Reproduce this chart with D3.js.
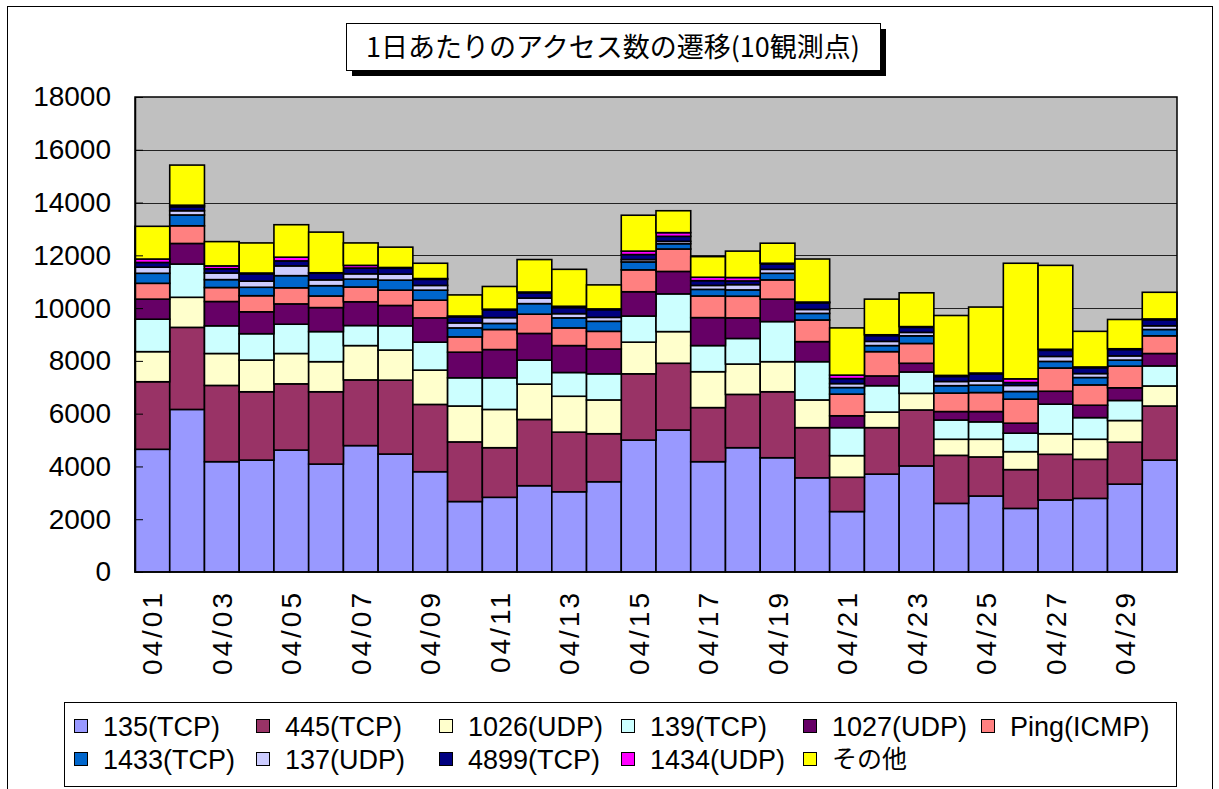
<!DOCTYPE html>
<html>
<head>
<meta charset="utf-8">
<script src="https://cdn.jsdelivr.net/npm/d3@7"></script>
<style>
  body { margin: 0; background: #fff; }
  text { font-family: "Liberation Sans", Arial, sans-serif; }
</style>
</head>
<body>
<svg id="chart" width="1219" height="789"></svg>
<script>
// DATA
var days = ['04/01','04/02','04/03','04/04','04/05','04/06','04/07','04/08','04/09','04/10',
            '04/11','04/12','04/13','04/14','04/15','04/16','04/17','04/18','04/19','04/20',
            '04/21','04/22','04/23','04/24','04/25','04/26','04/27','04/28','04/29','04/30'];
var seriesNames = ['135(TCP)','445(TCP)','1026(UDP)','139(TCP)','1027(UDP)','Ping(ICMP)',
                   '1433(TCP)','137(UDP)','4899(TCP)','1434(UDP)','その他'];
var seriesColors = ['#9999FF','#993366','#FFFFCC','#CCFFFF','#660066','#FF8080',
                    '#0066CC','#CCCCFF','#000080','#FF00FF','#FFFF00'];
var yTicks = [0, 2000, 4000, 6000, 8000, 10000, 12000, 14000, 16000, 18000];

var p135  = [4650,6160,4180,4240,4620,4090,4790,4470,3800,2670,2830,3270,3040,3420,5000,5380,4180,4710,4330,3570,2290,3710,4020,2600,2880,2410,2730,2790,3330,4240];
var p445  = [2560,3110,2890,2590,2510,2740,2490,2800,2550,2260,1880,2510,2260,1820,2510,2530,2050,2020,2500,1900,1300,1760,2120,1820,1480,1470,1730,1480,1590,2050];
var p1026 = [1140,1140,1210,1200,1150,1140,1300,1140,1300,1360,1450,1340,1360,1280,1200,1200,1360,1150,1140,1050,820,590,630,610,670,680,780,760,820,760];
var p139  = [1230,1260,1050,1000,1110,1140,760,920,1060,1070,1200,910,900,990,990,1430,990,970,1520,1450,1060,1000,810,730,660,700,1120,820,760,760];
var p1027 = [760,780,920,830,770,910,900,770,920,970,1070,1010,1020,940,920,850,1060,780,850,760,450,370,330,320,390,380,490,470,480,470];
var ping  = [600,670,530,610,610,440,560,580,670,580,760,730,670,670,830,850,820,820,730,820,820,920,750,700,720,910,880,770,820,670];
var p1433 = [380,410,300,320,460,390,300,380,380,340,230,400,380,380,300,200,250,240,250,250,250,230,290,280,280,290,250,280,230,240];
var p137  = [230,160,250,230,370,220,200,230,180,190,220,210,160,150,90,90,150,200,150,150,150,160,130,160,160,230,190,150,160,140];
var p4899 = [180,150,160,280,190,250,220,220,230,230,290,200,230,290,190,190,180,140,200,250,190,220,190,190,270,110,230,220,240,230];
var p1434 = [130,60,110,30,140,20,100,30,30,30,30,30,50,30,130,140,130,130,30,30,130,30,30,40,30,140,40,30,30,30];
var other = [1240,1520,920,1140,1230,1540,850,770,580,800,860,1230,1400,910,1360,830,780,1000,760,1630,1790,1350,1280,2270,2500,4380,3180,1350,1110,1010];

var seriesValues = [p135, p445, p1026, p139, p1027, ping, p1433, p137, p4899, p1434, other];

// build rows for d3.stack
var rows = days.map(function(d, i) {
    var r = { day: d };
    seriesNames.forEach(function(n, k) { r[n] = seriesValues[k][i]; });
    return r;
});

var svg = d3.select('#chart');

// outer frame
svg.append('rect')
   .attr('x', 7.5).attr('y', 6.5)
   .attr('width', 1205).attr('height', 800)
   .style('fill', '#fff').style('stroke', '#000').style('stroke-width', 1);

// PLOT AREA
var plotLeft = 135, plotRight = 1177, plotTop = 97, plotBottom = 572;

var x = d3.scaleBand().domain(days).range([plotLeft, plotRight]).padding(0);
var y = d3.scaleLinear().domain([0, 18000]).range([plotBottom, plotTop]);

svg.append('rect')
   .attr('x', plotLeft).attr('y', plotTop)
   .attr('width', plotRight - plotLeft).attr('height', plotBottom - plotTop)
   .style('fill', '#C0C0C0');

// gridlines
svg.append('g').selectAll('line')
   .data(yTicks.filter(function(t) { return t > 0 && t < 18000; }))
   .enter().append('line')
   .attr('x1', plotLeft).attr('x2', plotRight)
   .attr('y1', function(d) { return Math.round(y(d)) + 0.5; })
   .attr('y2', function(d) { return Math.round(y(d)) + 0.5; })
   .style('stroke', '#222').style('stroke-width', 1);

// stacked bars
var stack = d3.stack().keys(seriesNames);
var layers = stack(rows);

svg.append('g').selectAll('g')
   .data(layers)
   .enter().append('g')
   .style('fill', function(d, i) { return seriesColors[i]; })
   .selectAll('rect')
   .data(function(d) { return d; })
   .enter().append('rect')
   .attr('x', function(d) { return x(d.data.day); })
   .attr('width', x.bandwidth())
   .attr('y', function(d) { return y(d[1]); })
   .attr('height', function(d) { return y(d[0]) - y(d[1]); })
   .style('stroke', '#000').style('stroke-width', 1.6);

// plot border
svg.append('rect')
   .attr('x', plotLeft).attr('y', plotTop)
   .attr('width', plotRight - plotLeft).attr('height', plotBottom - plotTop)
   .style('fill', 'none').style('stroke', '#000').style('stroke-width', 1.5);

// y axis
var yAxis = d3.axisLeft(y).tickValues(yTicks).tickFormat(d3.format('d'))
              .tickSizeInner(-8).tickSizeOuter(0).tickPadding(24);
var gy = svg.append('g').attr('transform', 'translate(' + plotLeft + ',0)').call(yAxis);
gy.select('.domain').style('stroke', '#000').style('stroke-width', 1.5);
gy.selectAll('.tick line').style('stroke', '#000');
gy.selectAll('.tick text')
  .style('font-family', '"Liberation Sans", Arial, sans-serif')
  .style('font-size', '28px').style('fill', '#000');

// x labels (every other day)
svg.append('g').selectAll('text')
   .data(days.filter(function(d, i) { return i % 2 === 0; }))
   .enter().append('text')
   .attr('transform', function(d) {
       return 'translate(' + (x(d) + x.bandwidth() / 2) + ',590) rotate(-90)';
   })
   .attr('text-anchor', 'end')
   .attr('dy', '0.36em')
   .style('font-size', '28px')
   .style('letter-spacing', '3px')
   .text(function(d) { return d; });

// TITLE
svg.append('rect').attr('x', 352).attr('y', 29).attr('width', 534).attr('height', 47).style('fill', '#000');
svg.append('rect').attr('x', 346.5).attr('y', 23.5).attr('width', 534).attr('height', 47)
   .style('fill', '#fff').style('stroke', '#000').style('stroke-width', 1);
svg.append('text')
   .attr('x', 613).attr('y', 57)
   .attr('text-anchor', 'middle')
   .style('font-family', '"Noto Sans CJK JP", sans-serif')
   .style('font-size', '27px')
   .text('1日あたりのアクセス数の遷移(10観測点)');

// LEGEND
svg.append('rect').attr('x', 64.5).attr('y', 702.5).attr('width', 1112).attr('height', 84)
   .style('fill', '#fff').style('stroke', '#000').style('stroke-width', 1);

var legendCols = [74, 256, 439, 621, 803, 981];
var legendRows = [726, 759];

var legend = svg.append('g').selectAll('g')
   .data(seriesNames)
   .enter().append('g')
   .attr('transform', function(d, i) {
       return 'translate(' + legendCols[i % 6] + ',' + legendRows[Math.floor(i / 6)] + ')';
   });
legend.append('rect')
   .attr('x', 0.5).attr('y', -6.5).attr('width', 13).attr('height', 13)
   .style('fill', function(d, i) { return seriesColors[i]; })
   .style('stroke', '#000').style('stroke-width', 1);
legend.append('text')
   .attr('x', 29).attr('dy', '0.36em')
   .style('font-size', function(d) { return d === 'その他' ? '25px' : '27px'; })
   .style('font-family', function(d) { return d === 'その他' ? '"Noto Sans CJK JP", sans-serif' : null; })
   .text(function(d) { return d; });
</script>
</body>
</html>
